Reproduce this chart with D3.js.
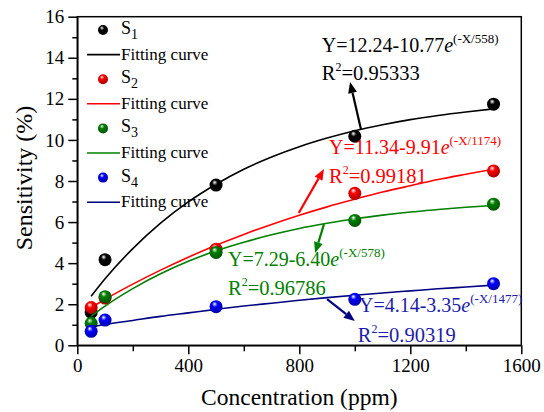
<!DOCTYPE html>
<meta charset="utf-8">
<style>
  body { margin: 0; background: #fff; }
  svg text { font-family: "Liberation Serif", "Times New Roman", serif !important; }
  .axis path, .axis line { stroke: #000; stroke-width: 1.5; }
</style>
<svg width="544" height="412" font-family="Liberation Serif"></svg>
<script src="https://d3js.org/d3.v7.min.js"></script>
<script>
// measured points
var concentration = [50, 100, 500, 1000, 1500];
var s1 = [1.6, 4.17, 7.8, 10.18, 11.74];
var s2 = [1.84, 2.3, 4.68, 7.4, 8.49];
var s3 = [1.07, 2.37, 4.52, 6.08, 6.87];
var s4 = [0.68, 1.23, 1.88, 2.24, 3.0];

// fitting curves
var fitX = [50, 100, 200, 300, 400, 500, 600, 700, 800, 900, 1000, 1100, 1200, 1300, 1400, 1500];
var fit1 = [2.39, 3.24, 4.71, 5.95, 6.98, 7.84, 8.57, 9.17, 9.67, 10.09, 10.45, 10.74, 10.99, 11.19, 11.36, 11.51];
var fit2 = [1.84, 2.24, 2.98, 3.66, 4.29, 4.87, 5.40, 5.88, 6.33, 6.74, 7.11, 7.46, 7.77, 8.07, 8.33, 8.58];
var fit3 = [1.42, 1.91, 2.76, 3.48, 4.09, 4.60, 5.02, 5.38, 5.69, 5.94, 6.16, 6.34, 6.49, 6.61, 6.72, 6.81];
var fit4 = [0.90, 1.01, 1.21, 1.41, 1.58, 1.75, 1.91, 2.05, 2.19, 2.32, 2.44, 2.55, 2.65, 2.75, 2.84, 2.93];

var xTicks = [0, 400, 800, 1200, 1600];
var yTicks = [0, 2, 4, 6, 8, 10, 12, 14, 16];

var series = [
  {name: "1", pts: s1, fit: fit1, dot: "#000000", line: "#000000",
   eq: ["Y=12.24-10.77", "(-X/558)"], r2: "=0.95333",
   eqAt: [881, 14.29], r2At: [881, 12.92], arrow: [[1022, 10.53], [983, 12.82]]},
  {name: "2", pts: s2, fit: fit2, dot: "#ff0000", line: "#ff0000",
   eq: ["Y=11.34-9.91", "(-X/1174)"], r2: "=0.99181",
   eqAt: [907, 9.31], r2At: [907, 7.9], arrow: [[798, 6.44], [889, 8.58]]},
  {name: "3", pts: s3, fit: fit3, dot: "#008000", line: "#008000",
   eq: ["Y=7.29-6.40", "(-X/578)"], r2: "=0.96786",
   eqAt: [543, 3.86], r2At: [543, 2.45], arrow: [[889, 5.90], [857, 4.49]]},
  {name: "4", pts: s4, fit: fit4, dot: "#0000ff", line: "#000080",
   eq: ["Y=4.14-3.35", "(-X/1477)"], r2: "=0.90319",
   eqAt: [1015, 1.62], r2At: [1011, 0.16], arrow: [[900, 2.25], [1000, 1.18]], text: "#1c1ca8"}
];

var svg = d3.select("svg");
var margin = {left: 77.3, right: 22.7, top: 16.7, bottom: 66.7};
var W = 544, H = 412;

var x = d3.scaleLinear().domain([0, 1600]).range([margin.left, W - margin.right]);
var y = d3.scaleLinear().domain([0, 16]).range([H - margin.bottom, margin.top]);

// sphere gradients
var defs = svg.append("defs");
series.forEach(function(s, i) {
  var g = defs.append("radialGradient").attr("id", "ball" + i)
    .attr("cx", "45%").attr("cy", "40%").attr("r", "60%")
    .attr("fx", "38%").attr("fy", "28%");
  g.append("stop").attr("offset", "0%").attr("stop-color", "#ffffff");
  g.append("stop").attr("offset", "35%").attr("stop-color", s.dot);
  g.append("stop").attr("offset", "100%").attr("stop-color", d3.color(s.dot).darker(1.2));
});

// axes
var xMinor = d3.range(200, 1600, 400);
var yMinor = d3.range(1, 16, 2);

function styleTicks(g) {
  g.attr("font-family", "Liberation Serif");
  g.selectAll("text").attr("font-size", 19).attr("fill", "#000");
}

svg.append("g").attr("class", "axis")
  .attr("transform", "translate(0," + y(0) + ")")
  .call(d3.axisBottom(x).tickValues(xMinor).tickSize(6).tickFormat(""))
  .call(function(g) { g.select(".domain").remove(); });
svg.append("g").attr("class", "axis")
  .attr("transform", "translate(0," + y(0) + ")")
  .call(d3.axisBottom(x).tickValues(xTicks).tickSize(9).tickSizeOuter(0).tickPadding(4)
    .tickFormat(d3.format("d")))
  .call(styleTicks);

svg.append("g").attr("class", "axis")
  .attr("transform", "translate(" + x(0) + ",0)")
  .call(d3.axisLeft(y).tickValues(yMinor).tickSize(5).tickFormat(""))
  .call(function(g) { g.select(".domain").remove(); });
svg.append("g").attr("class", "axis")
  .attr("transform", "translate(" + x(0) + ",0)")
  .call(d3.axisLeft(y).tickValues(yTicks).tickSize(9).tickSizeOuter(0).tickPadding(4)
    .tickFormat(d3.format("d")))
  .call(styleTicks);

// frame
svg.append("rect")
  .attr("x", x(0)).attr("y", y(16))
  .attr("width", x(1600) - x(0)).attr("height", y(0) - y(16))
  .attr("fill", "none").attr("stroke", "#000").attr("stroke-width", 1.5);

// axis titles
svg.append("text")
  .attr("x", (x(0) + x(1600)) / 2).attr("y", 405)
  .attr("text-anchor", "middle").attr("font-size", 23.5)
  .text("Concentration (ppm)");
svg.append("text")
  .attr("transform", "translate(32," + 178 + ") rotate(-90)")
  .attr("text-anchor", "middle").attr("font-size", 24)
  .text("Sensitivity (%)");

// curves and points
var line = d3.line()
  .x(function(d) { return x(d[0]); })
  .y(function(d) { return y(d[1]); })
  .curve(d3.curveMonotoneX);

series.forEach(function(s, i) {
  svg.append("path")
    .datum(fitX.map(function(v, k) { return [v, s.fit[k]]; }))
    .attr("d", line)
    .attr("fill", "none").attr("stroke", s.line).attr("stroke-width", 1.6);

  svg.append("g").selectAll("circle")
    .data(concentration.map(function(v, k) { return [v, s.pts[k]]; }))
    .enter().append("circle")
    .attr("cx", function(d) { return x(d[0]); })
    .attr("cy", function(d) { return y(d[1]); })
    .attr("r", 6.5)
    .attr("fill", "url(#ball" + i + ")");
});

// annotations
series.forEach(function(s, i) {
  var col = s.text || s.line;
  var t = svg.append("text")
    .attr("x", x(s.eqAt[0])).attr("y", y(s.eqAt[1]))
    .attr("font-size", 20).attr("fill", col);
  t.append("tspan").text(s.eq[0]);
  t.append("tspan").attr("font-style", "italic").text("e");
  t.append("tspan").attr("font-size", 13).attr("dy", -9).text(s.eq[1]);

  var r = svg.append("text")
    .attr("x", x(s.r2At[0])).attr("y", y(s.r2At[1]))
    .attr("font-size", 20.5).attr("fill", col);
  r.append("tspan").text("R");
  r.append("tspan").attr("font-size", 12).attr("dy", -9).text("2");
  r.append("tspan").attr("dy", 9).text(s.r2);

  // arrow
  var x1 = x(s.arrow[0][0]), y1 = y(s.arrow[0][1]);
  var x2 = x(s.arrow[1][0]), y2 = y(s.arrow[1][1]);
  var ang = Math.atan2(y2 - y1, x2 - x1);
  var len = 11, half = 4.5;
  var bx = x2 - len * Math.cos(ang), by = y2 - len * Math.sin(ang);
  svg.append("line")
    .attr("x1", x1).attr("y1", y1).attr("x2", bx).attr("y2", by)
    .attr("stroke", s.line).attr("stroke-width", 2.2);
  svg.append("polygon")
    .attr("points", [
      [x2, y2],
      [bx + half * Math.sin(ang), by - half * Math.cos(ang)],
      [bx - half * Math.sin(ang), by + half * Math.cos(ang)]
    ].map(function(p) { return p.join(","); }).join(" "))
    .attr("fill", s.line);
});

// legend
var legend = svg.append("g");
series.forEach(function(s, i) {
  var top = 30 + i * 49.2;
  legend.append("circle")
    .attr("cx", 103).attr("cy", top).attr("r", 5)
    .attr("fill", "url(#ball" + i + ")");
  var lt = legend.append("text").attr("x", 121).attr("y", top + 4)
    .attr("font-size", 18).attr("fill", "#000");
  lt.append("tspan").text("S");
  lt.append("tspan").attr("font-size", 14).attr("dy", 5).text(s.name);

  legend.append("line")
    .attr("x1", 87).attr("x2", 120)
    .attr("y1", top + 24.6).attr("y2", top + 24.6)
    .attr("stroke", s.line).attr("stroke-width", 1.6);
  legend.append("text").attr("x", 121).attr("y", top + 29.6)
    .attr("font-size", 17).attr("fill", "#000")
    .text("Fitting curve");
});
</script>
